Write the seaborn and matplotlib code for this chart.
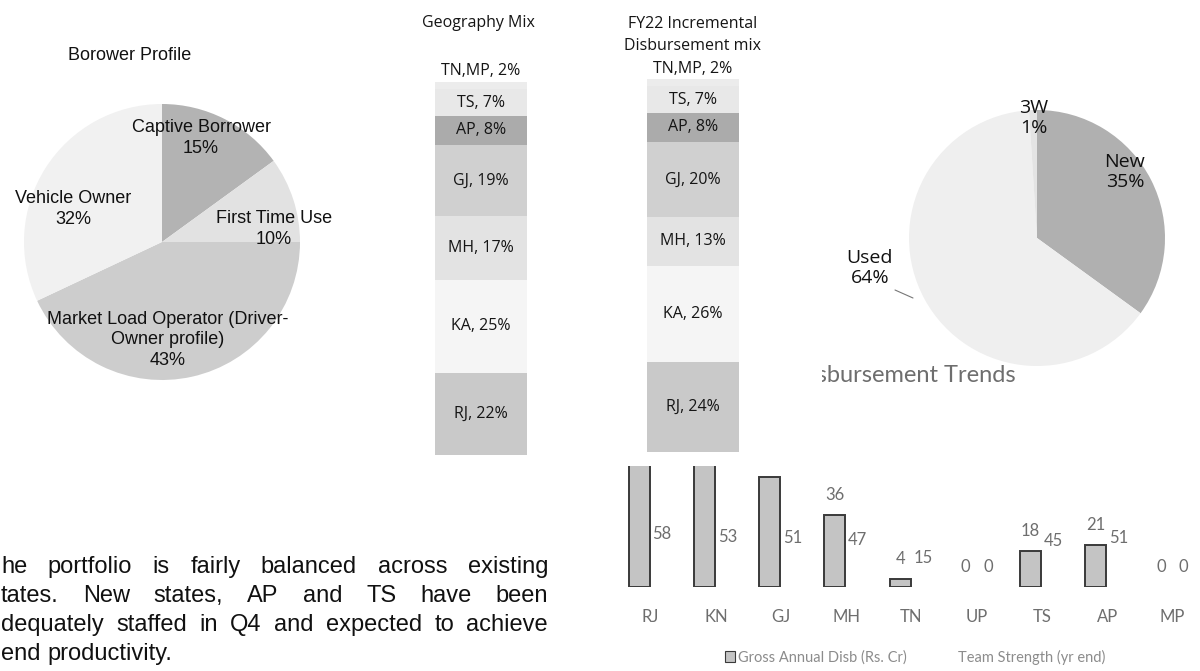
import numpy as np
import pandas as pd
import seaborn as sns
import matplotlib.pyplot as plt
from matplotlib.patches import Patch
from matplotlib.lines import Line2D

# ---- data ----
borrower_labels = ["Captive Borrower", "First Time Use",
                   "Market Load Operator (Driver-\nOwner profile)", "Vehicle Owner"]
borrower_share = [15, 10, 43, 32]

geo_states = ["RJ", "KA", "MH", "GJ", "AP", "TS", "TN,MP"]
geo_mix = [22, 25, 17, 19, 8, 7, 2]
fy22_mix = [24, 26, 13, 20, 8, 7, 2]

vehicle_labels = ["New", "Used", "3W"]
vehicle_share = [35, 64, 1]

trend_states = ["RJ", "KN", "GJ", "MH", "TN", "UP", "TS", "AP", "MP"]
gross_disb = [63, 61, 55, 36, 4, 0, 18, 21, 0]
team_strength = [58, 53, 51, 47, 15, 0, 45, 51, 0]
gross_name = "Gross Annual Disb (Rs. Cr)"
team_name = "Team Strength (yr end)"

para_lines = ["he portfolio is fairly balanced across existing",
              "tates. New states, AP and TS have been",
              "dequately staffed in Q4 and expected to achieve",
              "end productivity."]

# ---- layout helpers (pixel space, origin top-left) ----
W, H = 1200, 671
sns.set_theme(style="white")
plt.rcParams["font.family"] = ["Liberation Sans", "DejaVu Sans"]

fig = plt.figure(figsize=(W / 100, H / 100), dpi=100)
fig.patch.set_facecolor("white")


def box(x0, y0, x1, y1):
    return [x0 / W, 1 - y1 / H, (x1 - x0) / W, (y1 - y0) / H]


def ftext(x, y, s, **kw):
    kw.setdefault("ha", "center")
    kw.setdefault("va", "center")
    return fig.text(x / W, 1 - y / H, s, **kw)


def blank(ax):
    ax.set_xticks([])
    ax.set_yticks([])
    for sp in ax.spines.values():
        sp.set_visible(False)


# ---- borrower profile pie ----
ax_b = fig.add_axes(box(24, 104, 300, 380))
ax_b.pie(borrower_share, startangle=90, counterclock=False,
         colors=["#b3b3b3", "#e2e2e2", "#cdcdcd", "#f1f1f1"],
         wedgeprops=dict(linewidth=0))
ax_b.set_xlim(-1, 1)
ax_b.set_ylim(-1, 1)
ax_b.set_aspect("equal")

arial = dict(family=["Liberation Sans", "DejaVu Sans"], color="#111111", fontsize=13)
ftext(130, 55, "Borower Profile", **arial)
b_pos = [(201, 138), (274, 229), (168, 340), (73, 209)]
for (x, y), lab, v in zip(b_pos, borrower_labels, borrower_share):
    ftext(x, y, f"{lab}\n{v}%", linespacing=1.25, **arial)

# ---- disbursement trends (grouped bars) ----
trend_df = pd.DataFrame({
    "state": trend_states * 2,
    "series": [gross_name] * len(trend_states) + [team_name] * len(trend_states),
    "value": gross_disb + team_strength,
})
light = dict(family=["Lato", "DejaVu Sans"], color="#6e6e6e")

ax_t = fig.add_axes(box(618, 447, 1205, 587))
sns.barplot(data=trend_df, x="state", y="value", hue="series",
            hue_order=[gross_name, team_name], palette=["#c4c4c4", "#ffffff"],
            width=0.7, gap=0.08, edgecolor="#3a3a3a", linewidth=1.4,
            legend=False, ax=ax_t)
for bar in ax_t.containers[0]:
    if bar.get_height() == 0:
        bar.set_linewidth(0)
for bar in ax_t.containers[1]:
    bar.set_visible(False)
ax_t.set_ylim(0, 70)
ax_t.set_xlim(-0.5, 8.5)
ax_t.bar_label(ax_t.containers[0], fmt="%d", padding=9, fontsize=12, **light)

# team strength sits on its own (secondary) scale, only its labels show
ax_s = ax_t.twinx()
sns.barplot(data=trend_df, x="state", y="value", hue="series",
            hue_order=[gross_name, team_name], width=0.7, gap=0.08,
            legend=False, ax=ax_s)
for cont in ax_s.containers:
    for bar in cont:
        bar.set_visible(False)
ax_s.set_ylim(0, 250)
ax_s.set_xlim(-0.5, 8.5)
ax_s.bar_label(ax_s.containers[1], fmt="%d", padding=9, fontsize=12, **light)

for a in (ax_t, ax_s):
    a.set_xlabel("")
    a.set_ylabel("")
    a.set_yticks([])
    for sp in a.spines.values():
        sp.set_visible(False)
ax_t.tick_params(axis="x", length=0, pad=16, labelsize=12, labelcolor="#6e6e6e")
for t in ax_t.get_xticklabels():
    t.set_fontfamily(["Lato", "DejaVu Sans"])

ftext(904, 376, "Disbursement Trends", fontsize=17, zorder=1, **light)

handles = [Patch(facecolor="#c4c4c4", edgecolor="#3a3a3a", linewidth=0.8),
           Patch(facecolor="none", edgecolor="none")]
leg = fig.legend(handles, [gross_name, team_name], loc="center",
                 bbox_to_anchor=(915 / W, 1 - 657 / H), ncol=2, frameon=False,
                 fontsize=10.5, handlelength=0.7, handleheight=0.7,
                 handletextpad=0.2, columnspacing=2.6)
for t in leg.get_texts():
    t.set_color("#8c8c8c")
    t.set_fontfamily(["Lato", "DejaVu Sans"])

# ---- stacked geography columns ----
geo_colors = ["#c9c9c9", "#f5f5f5", "#e3e3e3", "#d0d0d0", "#ababab", "#e8e8e8", "#ececec"]
calibri = dict(family=["Open Sans", "DejaVu Sans"], color="#151515", fontsize=11.5)


def stacked(ax, values, top_pad):
    bottoms = np.concatenate([[0], np.cumsum(values)[:-1]])
    for i, (lab, v, b) in enumerate(zip(geo_states, values, bottoms)):
        ax.bar(0, v, bottom=b, width=1, color=geo_colors[i], linewidth=0)
        if i == len(values) - 1:
            ax.annotate(f"{lab}, {v}%", (0, b + v), xytext=(0, top_pad),
                        textcoords="offset points", ha="center", va="center", **calibri)
        else:
            ax.text(0, b + v / 2, f"{lab}, {v}%", ha="center", va="center", **calibri)


ax_g = fig.add_axes(box(435, 82, 527, 455))
stacked(ax_g, geo_mix, 8)
ax_g.set_xlim(-0.5, 0.5)
ax_g.set_ylim(0, 100)
blank(ax_g)
ax_g.patch.set_alpha(0)
ftext(478, 23, "Geography Mix", **calibri)

# FY22 column sits on a white panel that hides the top of the trend chart
ax_f = fig.add_axes(box(600, 0, 822, 466))
ax_f.set_zorder(5)
ax_f.set_facecolor("white")
stacked(ax_f, fy22_mix, 7)
ax_f.set_xlim(-(693 - 600) / 92, (822 - 693) / 92)
ax_f.set_ylim(-(466 - 452) / 3.73, 100 + (79 - 0) / 3.73)
blank(ax_f)
ax_f.text(0, 100 + (79 - 35) / 3.73, "FY22 Incremental\nDisbursement mix",
          ha="center", va="center", linespacing=1.45, **calibri)

# ---- vehicle type pie ----
ax_v = fig.add_axes(box(909, 110, 1165, 366))
ax_v.set_zorder(6)
ax_v.pie(vehicle_share, startangle=90, counterclock=False,
         colors=["#b0b0b0", "#efefef", "#e4e4e4"], wedgeprops=dict(linewidth=0))
ax_v.set_xlim(-1, 1)
ax_v.set_ylim(-1, 1)
ax_v.set_aspect("equal")
calib_big = dict(family=["Open Sans", "DejaVu Sans"], color="#111111", fontsize=14)
v_pos = [(1125, 172), (870, 268), (1034, 118)]
for (x, y), lab, v in zip(v_pos, vehicle_labels, vehicle_share):
    ftext(x, y, f"{lab}\n{v}%", linespacing=1.2, zorder=7, **calib_big)
fig.add_artist(Line2D([895 / W, 913 / W], [1 - 290 / H, 1 - 298 / H],
                      color="#777777", linewidth=0.8))

# ---- paragraph (justified) ----
renderer = fig.canvas.get_renderer()
x_left, x_right = 1, 548
for k, line in enumerate(para_lines):
    y = 567 + 29 * k
    words = line.split()
    objs = [ftext(0, y, w, ha="left", fontsize=17,
                  family=["Liberation Sans", "DejaVu Sans"], color="#111111")
            for w in words]
    widths = [o.get_window_extent(renderer).width for o in objs]
    if k < len(para_lines) - 1:
        gap = (x_right - x_left - sum(widths)) / (len(words) - 1)
    else:
        gap = objs[0].get_fontsize() * 100 / 72 * 0.28
    x = x_left
    for o, w in zip(objs, widths):
        o.set_x(x / W)
        x += w + gap

fig.savefig("out.png", dpi=100, facecolor="white")
